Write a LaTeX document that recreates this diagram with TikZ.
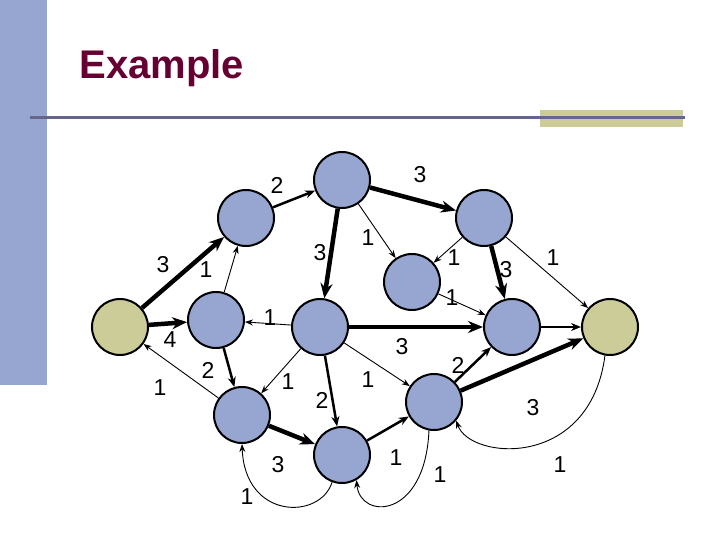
\documentclass[tikz,border=0pt]{standalone}
\usepackage{fontspec}
\setmainfont{Liberation Sans}
\usetikzlibrary{arrows.meta}
\definecolor{nodeb}{RGB}{150,166,208}
\definecolor{nodek}{RGB}{204,204,153}
\definecolor{barc}{RGB}{150,166,208}
\definecolor{linec}{RGB}{102,102,140}
\definecolor{titc}{RGB}{102,0,51}
\begin{document}
\begin{tikzpicture}[x=1pt,y=-1pt,
  vtx/.style={circle,draw,line width=2pt,minimum size=56pt,inner sep=0pt,fill=nodeb},
  term/.style={vtx,fill=nodek},
  thin/.style={-{Stealth[length=8pt,width=6pt]},line width=0.9pt},
  mid/.style={-{Stealth[length=10pt,width=8pt]},line width=2.5pt},
  thick/.style={-{Stealth[length=15pt,width=12pt]},line width=4.5pt},
  lab/.style={font=\fontsize{23}{23}\selectfont}]
\useasboundingbox (0,0) rectangle (720,540);
\fill[barc] (0,0) rectangle (47,385);
\fill[nodek] (540,110) rectangle (683,127);
\draw[linec,line width=3pt] (30,118) -- (685,118);
\node[anchor=west,text=titc,font=\bfseries\fontsize{40}{40}\selectfont] (title) at (76,68) {Example};
\node[term] (s) at (120,327) {};
\node[vtx] (a) at (246,218) {};
\node[vtx] (b) at (342,180) {};
\node[vtx] (c) at (216,320) {};
\node[vtx] (d) at (320,327) {};
\node[vtx] (e) at (412,282) {};
\node[vtx] (f) at (484,218) {};
\node[vtx] (g) at (512,327) {};
\node[term] (t) at (610,327) {};
\node[vtx] (h) at (242,415) {};
\node[vtx] (i) at (342,455) {};
\node[vtx] (j) at (434,402) {};
\draw[thick] (s) -- (a);
\draw[thick] (s) -- (c);
\draw[thin] (c) -- (a);
\draw[mid] (a) -- (b);
\draw[thick] (b) -- (f);
\draw[thick] (b) -- (d);
\draw[thin] (b) -- (e);
\draw[thin] (f) -- (e);
\draw[thick] (f) -- (g);
\draw[thin] (f) -- (t);
\draw[thin] (e) -- (g);
\draw[thin] (d) -- (c);
\draw[thick] (d) -- (g);
\draw[mid] (g) -- (t);
\draw[mid] (c) -- (h);
\draw[thin] (d) -- (h);
\draw[thin] (h) -- (s);
\draw[mid] (d) -- (i);
\draw[thin] (d) -- (j);
\draw[thick] (h) -- (i);
\draw[mid] (i) -- (j);
\draw[mid] (j) -- (g);
\draw[thick] (j) -- (t);
\draw[thin] (i.250) .. controls (320,520) and (245,520) .. (h.south);
\draw[thin] (j.260) .. controls (425,520) and (360,520) .. (i.-60);
\draw[thin] (t.260) .. controls (590,470) and (470,460) .. (j.-40);
\foreach \p/\t in {{277,185}/2,{420,175}/3,{163,265}/3,{206,270}/1,{320,253}/3,{368,238}/1,{454,258}/1,{506,270}/3,{553,258}/1,{452,298}/1,{270,318}/1,{170,340}/4,{402,347}/3,{208,370}/2,{160,388}/1,{288,382}/1,{368,380}/1,{458,365}/2,{322,400}/2,{533,408}/3,{278,465}/3,{396,458}/1,{440,475}/1,{560,465}/1,{247,497}/1}
  \node[lab] at (\p) {\t};
\end{tikzpicture}
\end{document}
